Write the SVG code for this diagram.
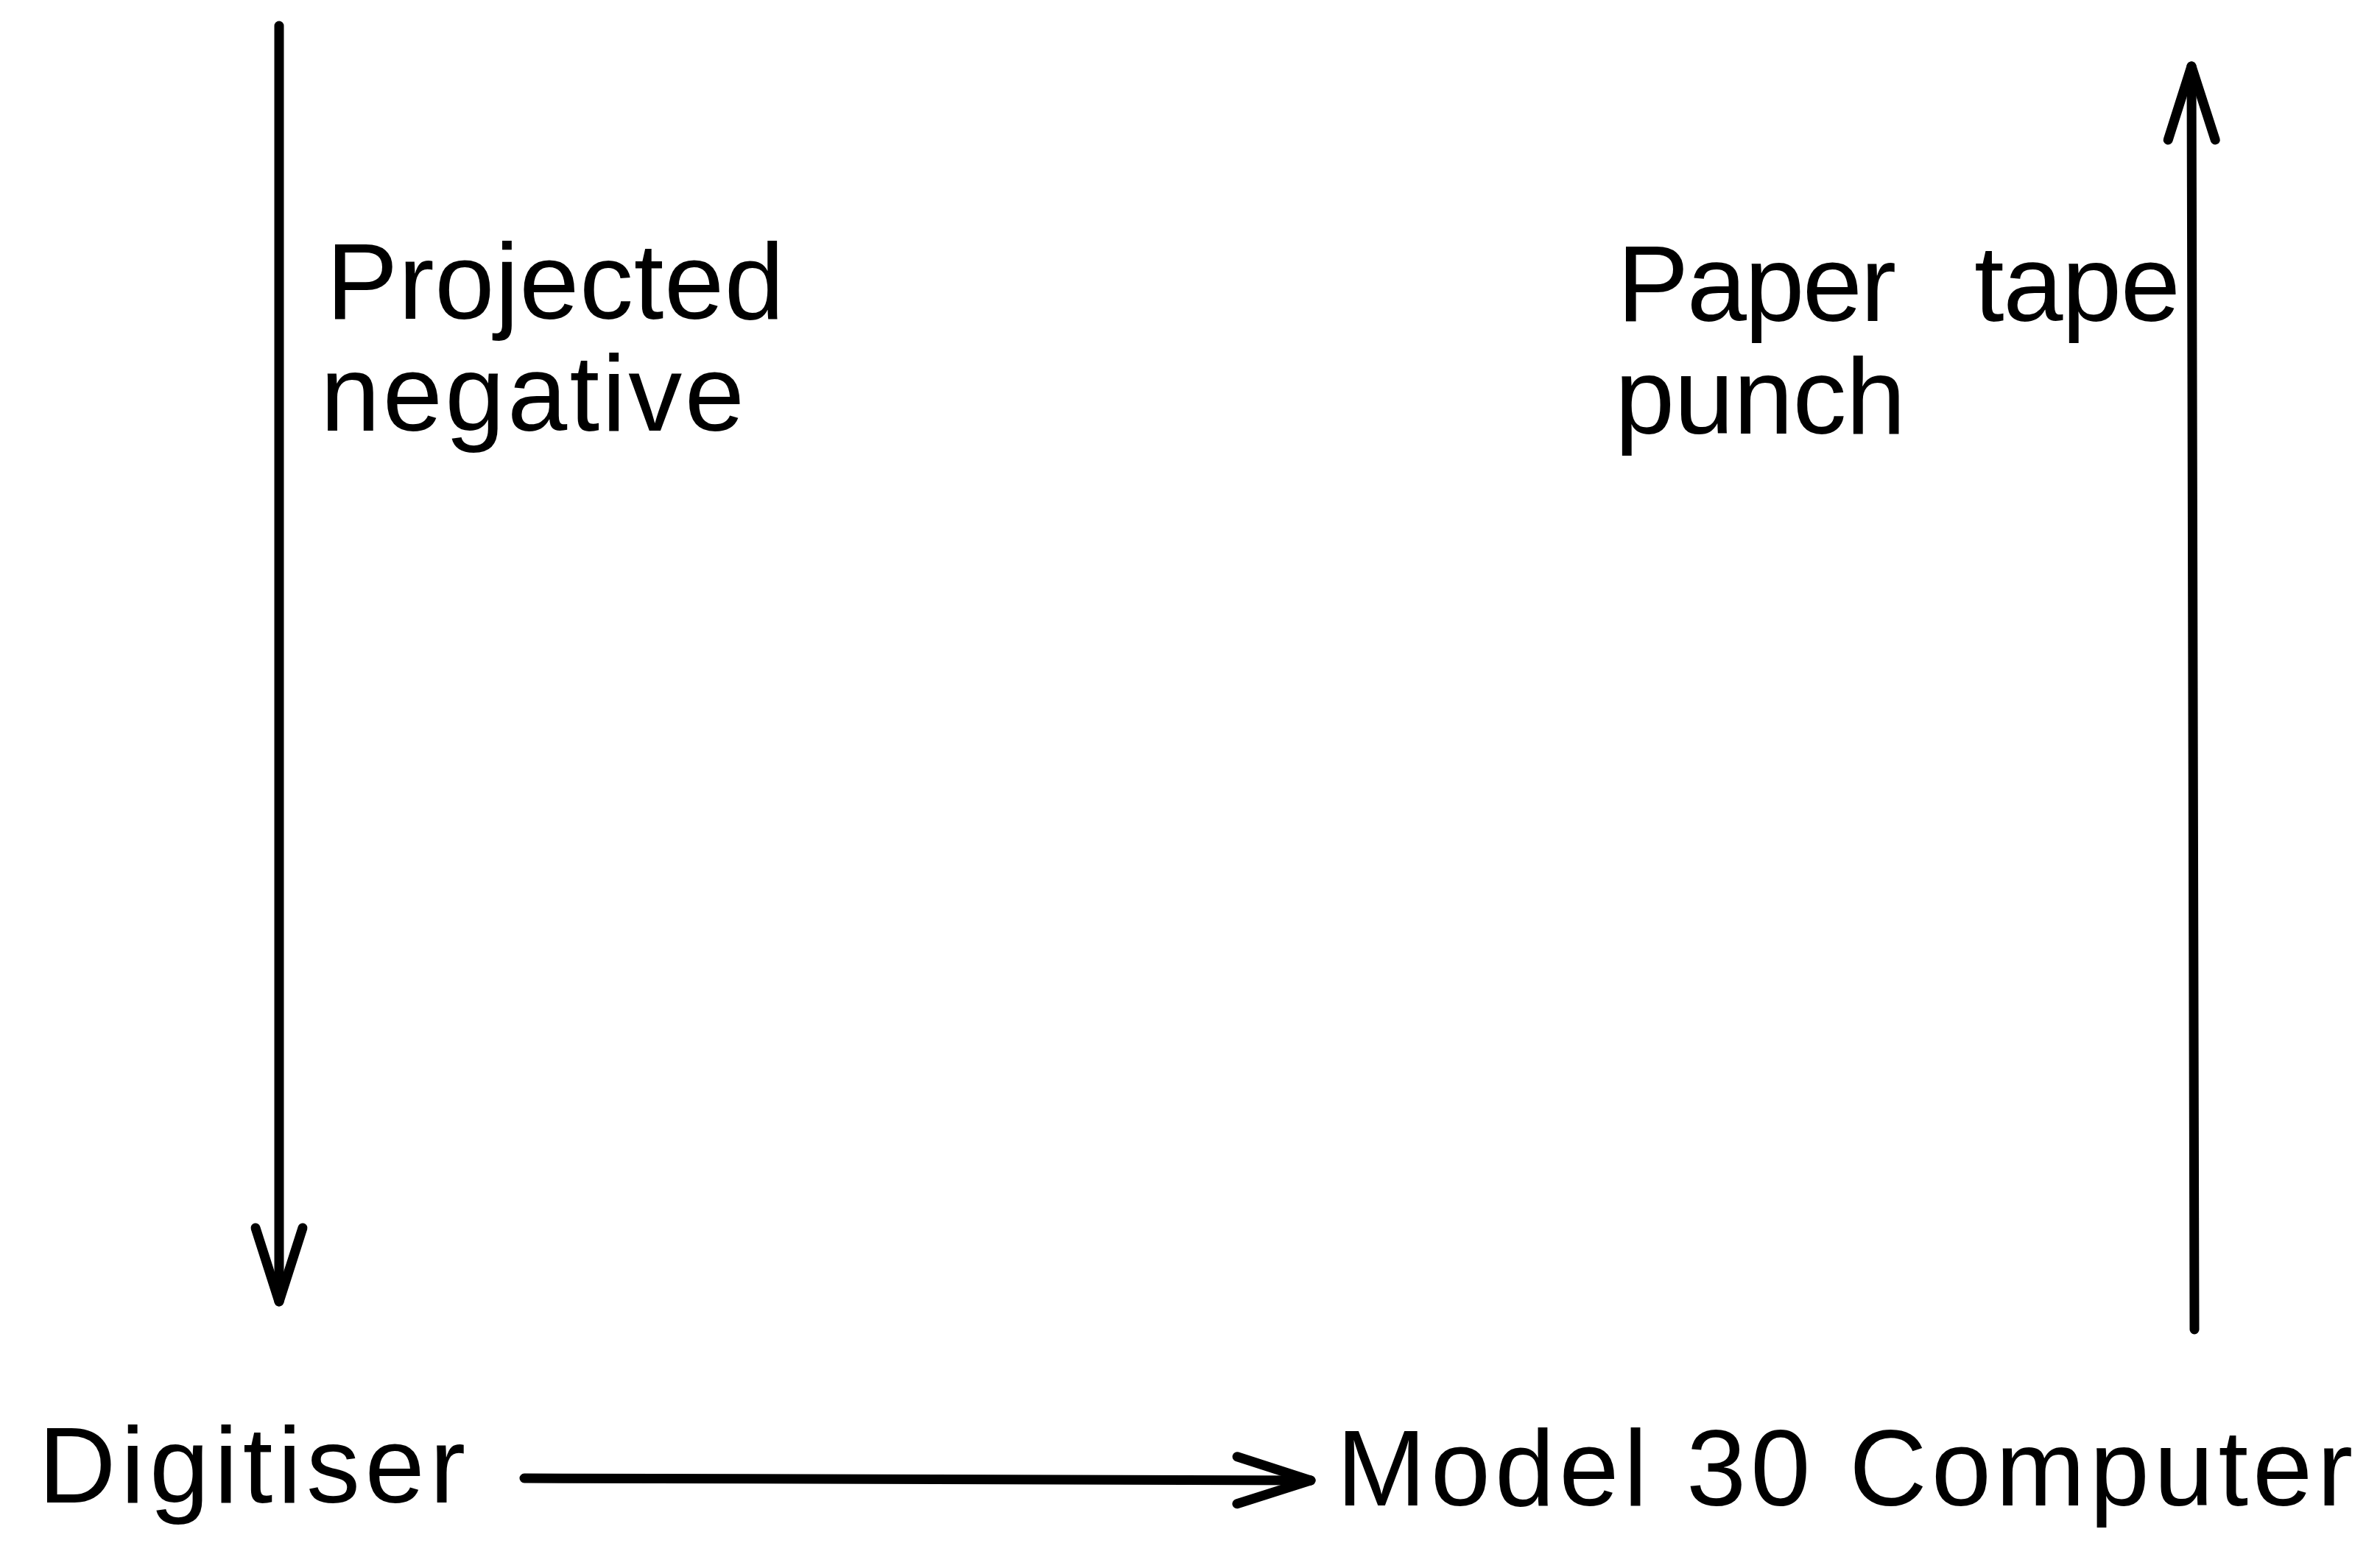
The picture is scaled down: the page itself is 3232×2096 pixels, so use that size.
<svg xmlns="http://www.w3.org/2000/svg" width="3232" height="2096" viewBox="0 0 3232 2096">
  <style>
    .lbl { font-family: "Liberation Sans", Arial, sans-serif; font-size: 146px; fill: #000; }
    .conn { stroke: #000; stroke-width: 13; fill: none; stroke-linecap: round; }
  </style>
  <defs>
    <marker id="vee" markerUnits="userSpaceOnUse" orient="auto" refX="0" refY="0" markerWidth="140" markerHeight="100" viewBox="-120 -50 140 100" overflow="visible">
      <path d="M-100,-32 L0,0 L-100,32" fill="none" stroke="#000" stroke-width="13" stroke-linecap="round" stroke-linejoin="round"/>
    </marker>
  </defs>
  <rect width="3232" height="2096" fill="#fff"/>

  <g id="connectors">
    <line class="conn" x1="379" y1="35" x2="379" y2="1768" marker-end="url(#vee)"/>
    <line class="conn" x1="2980" y1="1806" x2="2976" y2="90" marker-end="url(#vee)"/>
    <line class="conn" x1="712" y1="2008" x2="1780" y2="2011" stroke-width="15" marker-end="url(#vee)"/>
  </g>

  <g id="label-projected-negative">
    <text class="lbl" x="443" y="433" textLength="622">Projected</text>
    <text class="lbl" x="435" y="585" textLength="576">negative</text>
  </g>

  <g id="label-paper-tape-punch">
    <text class="lbl" y="436"><tspan x="2196" textLength="379">Paper</tspan><tspan x="2681" textLength="280">tape</tspan></text>
    <text class="lbl" x="2193" y="589" textLength="395">punch</text>
  </g>

  <g id="node-digitiser">
    <text class="lbl" x="52" y="2041" textLength="580">Digitiser</text>
  </g>

  <g id="node-model30">
    <text class="lbl" x="1815" y="2045" textLength="1380">Model 30 Computer</text>
  </g>
</svg>
